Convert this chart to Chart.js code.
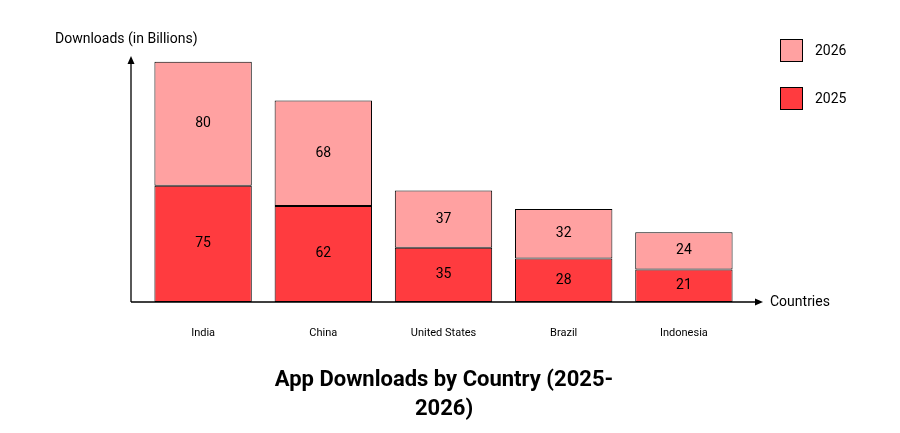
<!DOCTYPE html>
<html><head><meta charset="utf-8">
<script src="https://cdn.jsdelivr.net/npm/chart.js@4"></script>
<style>html,body{margin:0;padding:0;background:#fff}</style>
</head><body>
<div style="width:900px;height:433px"><canvas id="c"></canvas></div>
<script>
const categories = ["India","China","United States","Brazil","Indonesia"];
const values2025 = [75,62,35,28,21];
const values2026 = [80,68,37,32,24];
const FONT = "Roboto, 'Noto Sans', sans-serif";

const overlay = {
  id:'overlay',
  afterDraw(chart){
    const ctx = chart.ctx, x = chart.scales.x, y = chart.scales.y;
    const y0 = y.getPixelForValue(0), x0 = 131;
    ctx.save();
    ctx.strokeStyle='#000'; ctx.fillStyle='#000'; ctx.lineWidth=1.3;
    ctx.beginPath(); ctx.moveTo(x0,y0); ctx.lineTo(x0,62); ctx.moveTo(x0,y0); ctx.lineTo(756,y0); ctx.stroke();
    ctx.beginPath(); ctx.moveTo(x0,56); ctx.lineTo(x0-3.5,64); ctx.lineTo(x0+3.5,64); ctx.fill();
    ctx.beginPath(); ctx.moveTo(763,y0); ctx.lineTo(755,y0-3.5); ctx.lineTo(755,y0+3.5); ctx.fill();
    ctx.font='14px '+FONT; ctx.textBaseline='middle';
    ctx.textAlign='left'; ctx.fillText('Downloads (in Billions)',55,39);
    ctx.fillText('Countries',770,y0);
    ctx.font='11px '+FONT; ctx.textAlign='center';
    categories.forEach((c,i)=>ctx.fillText(c,x.getPixelForValue(i),333));
    // data labels
    ctx.font='14px '+FONT;
    chart.data.datasets.forEach((ds,di)=>{
      chart.getDatasetMeta(di).data.forEach((bar,i)=>{
        ctx.fillText(String(ds.data[i]),bar.x,(bar.y+bar.base)/2);
      });
    });
    // legend
    const leg=[chart.data.datasets[1],chart.data.datasets[0]];
    leg.forEach((ds,i)=>{
      const ly=50+i*48;
      ctx.fillStyle=ds.backgroundColor; ctx.fillRect(780,ly-11,23,23);
      ctx.strokeStyle='#000'; ctx.lineWidth=1; ctx.strokeRect(780.5,ly-10.5,22,22);
      ctx.fillStyle='#000'; ctx.textAlign='left'; ctx.fillText(ds.label,815,ly+1);
    });
    ctx.font='bold 22px '+FONT; ctx.textAlign='center';
    ctx.fillText('App Downloads by Country (2025-',444,380);
    ctx.fillText('2026)',444,409);
    ctx.restore();
  }
};

new Chart(document.getElementById('c'),{
  type:'bar',
  data:{labels:categories,datasets:[
    {label:'2025',data:values2025,backgroundColor:'#FF3B3F',borderColor:'#000',borderWidth:1,borderSkipped:false},
    {label:'2026',data:values2026,backgroundColor:'#FFA1A1',borderColor:'#000',borderWidth:1,borderSkipped:false}
  ]},
  options:{
    responsive:true,maintainAspectRatio:false,animation:false,
    layout:{padding:{left:143,right:156,top:54,bottom:131}},
    plugins:{legend:{display:false},title:{display:false},tooltip:{enabled:false}},
    datasets:{bar:{barPercentage:0.81,categoryPercentage:1}},
    scales:{
      x:{stacked:true,display:false},
      y:{stacked:true,display:false,min:0,max:160}
    }
  },
  plugins:[overlay]
});
</script>
</body></html>
